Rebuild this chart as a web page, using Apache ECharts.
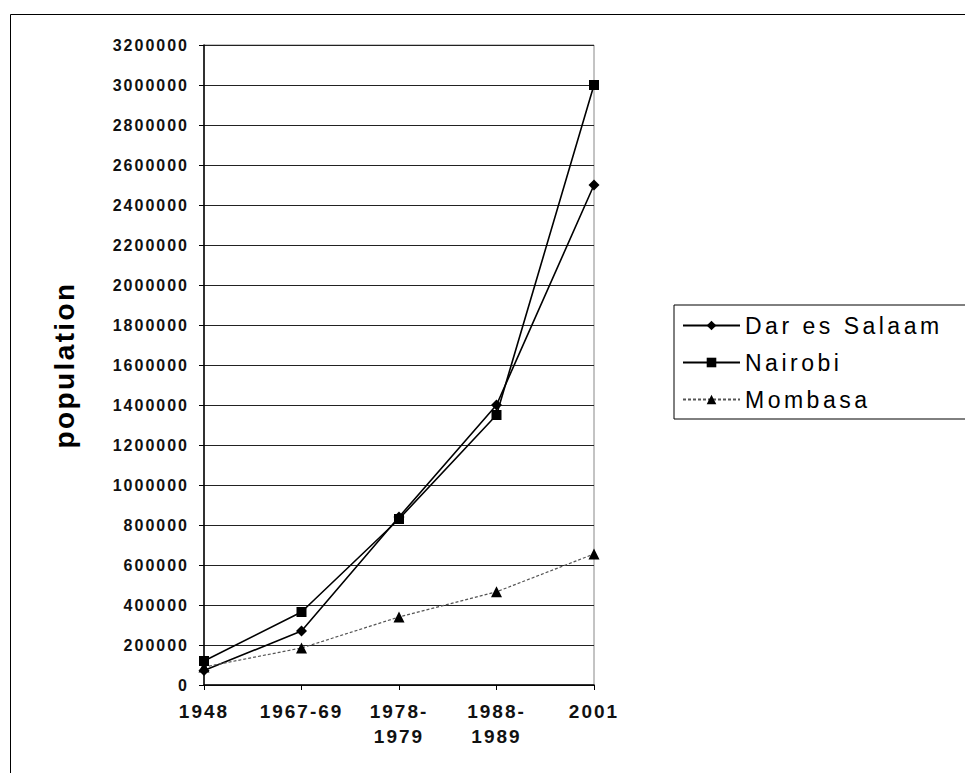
<!DOCTYPE html>
<html>
<head>
<meta charset="utf-8">
<script src="https://cdn.jsdelivr.net/npm/echarts@6/dist/echarts.min.js"></script>
<style>
  html, body { margin: 0; padding: 0; background: #fff; }
  #chart { width: 965px; height: 773px; }
  /* scanned chart has widely spaced letters */
  #chart svg text { letter-spacing: 2px; }
  #chart svg text[style*="23px"] { letter-spacing: 3.5px; }
  #chart svg text[style*="28px"] { letter-spacing: 2.4px; }
</style>
</head>
<body>
<div id="chart"></div>
<script>
// 类目
var categories = ['1948', '1967-69', '1978-\n1979', '1988-\n1989', '2001']
// 各城市人口
var darEsSalaam = [72000, 270000, 840000, 1400000, 2500000]
var nairobi = [120000, 365000, 830000, 1350000, 3000000]
var mombasa = [90000, 185000, 340000, 466000, 655000]

var chart = echarts.init(document.getElementById('chart'), null, { renderer: 'svg' })

chart.setOption({
  animation: false,
  backgroundColor: '#fff',
  grid: {
    left: 204,
    right: 371,
    top: 45,
    bottom: 88,
    show: true,
    borderColor: '#888',
    borderWidth: 1
  },
  legend: {
    orient: 'vertical',
    left: 674,
    top: 305,
    padding: [9, 80, 8, 8],
    itemGap: 14,
    itemWidth: 57,
    itemHeight: 12,
    borderColor: '#000',
    borderWidth: 1,
    textStyle: {
      fontFamily: 'Liberation Sans',
      fontSize: 23,
      color: '#000'
    },
    data: ['Dar es Salaam', 'Nairobi', 'Mombasa']
  },
  xAxis: {
    type: 'category',
    data: categories,
    boundaryGap: false,
    axisLine: { lineStyle: { color: '#000', width: 1.5 } },
    axisTick: { show: true, length: 5, alignWithLabel: true, lineStyle: { color: '#000' } },
    axisLabel: {
      color: '#111',
      fontFamily: 'Liberation Sans',
      fontWeight: 'bold',
      fontSize: 19,
      lineHeight: 25,
      margin: 14,
      interval: 0
    }
  },
  yAxis: {
    type: 'value',
    min: 0,
    max: 3200000,
    interval: 200000,
    name: 'population',
    nameLocation: 'middle',
    nameGap: 126,
    nameTextStyle: {
      fontFamily: 'Liberation Sans',
      fontWeight: 'bold',
      fontSize: 28,
      color: '#000'
    },
    axisLine: { show: true, lineStyle: { color: '#000', width: 1.5 } },
    axisTick: { show: true, length: 5, lineStyle: { color: '#000' } },
    axisLabel: {
      color: '#111',
      fontFamily: 'Liberation Sans',
      fontWeight: 'bold',
      fontSize: 16,
      margin: 15,
      formatter: function (v) { return String(v) }
    },
    splitLine: { show: true, lineStyle: { color: '#222', width: 1 } }
  },
  series: [
    {
      name: 'Dar es Salaam',
      type: 'line',
      data: darEsSalaam,
      symbol: 'diamond',
      symbolSize: 11,
      itemStyle: { color: '#000' },
      lineStyle: { color: '#000', width: 1.6 }
    },
    {
      name: 'Nairobi',
      type: 'line',
      data: nairobi,
      symbol: 'rect',
      symbolSize: 10,
      itemStyle: { color: '#000' },
      lineStyle: { color: '#000', width: 1.6 }
    },
    {
      name: 'Mombasa',
      type: 'line',
      data: mombasa,
      symbol: 'triangle',
      symbolSize: 11,
      itemStyle: { color: '#000' },
      lineStyle: { color: '#555', width: 1.2, type: [3, 2] }
    }
  ],
  graphic: [
    {
      type: 'rect',
      left: 8,
      top: 12,
      shape: { width: 990, height: 800 },
      style: { fill: 'none', stroke: '#000', lineWidth: 1 },
      silent: true
    }
  ]
})
</script>
</body>
</html>
